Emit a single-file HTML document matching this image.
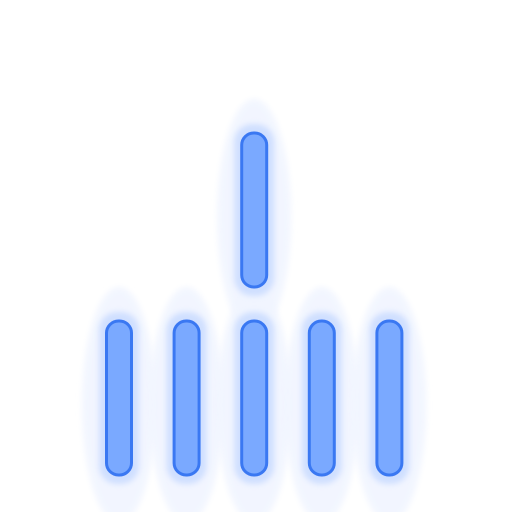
<!DOCTYPE html>
<html><head><meta charset="utf-8"><style>
html,body{margin:0;padding:0;background:#fff;width:512px;height:512px;overflow:hidden;font-family:"Liberation Sans",sans-serif}
</style></head><body>
<svg id="chart" width="512" height="512" viewBox="0 0 512 512">
<defs>
<filter id="blur1" x="-50%" y="-20%" width="200%" height="140%"><feGaussianBlur stdDeviation="3"/></filter>
<filter id="blur3" x="-50%" y="-20%" width="200%" height="140%"><feGaussianBlur stdDeviation="3"/></filter>
</defs>
<g id="halos"></g>
<g id="glows"></g>
<g id="marks"></g>
</svg>
<script>
const categories = ["A","B","C","D","E","F"];
const columnIndex = [0,1,2,3,4,2];
const rowIndex = [0,0,0,0,0,1];

const NS = "http://www.w3.org/2000/svg";
function xScale(c){ return 119 + c*67.6; }
function yScale(r){ return 475 - r*188; }
const BAR_H = 154, BAR_W = 25;
const gh = document.getElementById('halos');
const gg = document.getElementById('glows');
const g = document.getElementById('marks');
function mk(tag, attrs){ const e=document.createElementNS(NS,tag); for(const k in attrs) e.setAttribute(k,attrs[k]); return e; }

categories.forEach((cat,i)=>{
  const cx = xScale(columnIndex[i]);
  const yb = yScale(rowIndex[i]);
  const halo = mk('ellipse',{cx:cx,cy:yb-70,rx:37,ry:118,fill:'#f1f5ff',opacity:0.9,filter:'url(#blur3)'});
  
  
  gh.appendChild(halo);
  const glow = mk('rect',{x:cx-20,y:yb-BAR_H-9,width:40,height:BAR_H+18,rx:18,fill:'#c9dbff',opacity:0.85,filter:'url(#blur1)'});
  
  
  gg.appendChild(glow);
  const bar = mk('rect',{x:cx-BAR_W/2,y:yb-BAR_H,width:BAR_W,height:BAR_H,rx:12,fill:'#7aa9ff',stroke:'#3a78f2','stroke-width':3});
  
  
  g.appendChild(bar);
});
</script>
</body></html>
